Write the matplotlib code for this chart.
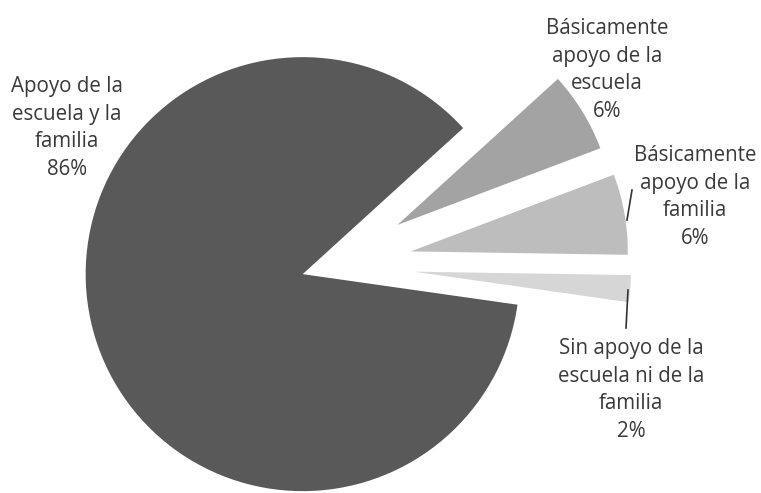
import matplotlib.pyplot as plt

# slices, clockwise from the upper right
labels = ['Básicamente\napoyo de la\nescuela', 'Básicamente\napoyo de la\nfamilia',
          'Sin apoyo de la\nescuela ni de la\nfamilia', 'Apoyo de la\nescuela y la\nfamilia']
values = [6, 6, 2, 86]
colors = ['#a3a3a3', '#bdbdbd', '#d6d6d6', '#595959']
explode = [0.355, 0.37, 0.38, 0.14]

# label centres in pixels of the 761x493 picture
label_pos = [(607, 70), (695, 197), (631, 390), (67, 128)]
leaders = [None, ((632, 190), (627, 220)), ((628, 290), (626, 328)), None]

W, H = 761, 493
R = 217.0            # pixels per unit radius
cx, cy = 331.7, 265.2  # pie centre in pixels

plt.rcParams['font.family'] = ['Open Sans', 'DejaVu Sans']
fig = plt.figure(figsize=(W / 100, H / 100), dpi=100)
ax = fig.add_axes([0, 0, 1, 1])
ax.pie(values, explode=explode, colors=colors, startangle=42.3, counterclock=False,
       radius=1, wedgeprops=dict(linewidth=0))
ax.set_xlim(-cx / R, (W - cx) / R)
ax.set_ylim(-(H - cy) / R, cy / R)
ax.set_aspect('equal')
ax.axis('off')

for lab, v, (px, py) in zip(labels, values, label_pos):
    ax.text(px / W, 1 - py / H, f'{lab}\n{v}%', transform=ax.transAxes,
            ha='center', va='center', fontsize=14.8, color='#3a3a3a', linespacing=1.42)

for ld in leaders:
    if ld:
        (x0, y0), (x1, y1) = ld
        ax.plot([x0 / W, x1 / W], [1 - y0 / H, 1 - y1 / H], transform=ax.transAxes,
                color='#333333', lw=1.2)

fig.savefig('out.png', dpi=100)
